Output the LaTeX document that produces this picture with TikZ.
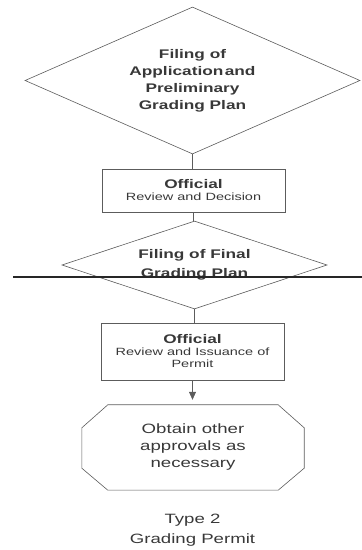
\documentclass[tikz,border=0pt]{standalone}
\usepackage{fontspec}
\setmainfont{Liberation Sans}[FakeStretch=1.38]
\usepackage[HTML]{xcolor}
\usepackage{tikz}
\usetikzlibrary{positioning, arrows.meta, shapes.geometric}
\definecolor{edgegray}{HTML}{5C5C5C}
\definecolor{textgray}{HTML}{383838}

\begin{document}
\begin{tikzpicture}[x=1pt,y=1pt,
  decision/.style={diamond, draw=edgegray, line width=0.6pt, inner sep=0pt, align=center,
    text=textgray, font=\bfseries\fontsize{12.5}{17}\selectfont},
  stagebox/.style={rectangle, draw=edgegray, line width=0.6pt, inner sep=0pt, align=center,
    minimum width=183pt, text=textgray, font=\fontsize{10.5}{12}\selectfont},
  link/.style={draw=edgegray, line width=0.6pt}]
\useasboundingbox (0,0) rectangle (362,550);
% decisions and review boxes
\node[decision, aspect=2.28, minimum width=335pt, minimum height=147pt] (apply) at (192.5,469.5)
  {Filing of\\Application\hspace{1.5pt}and\\Preliminary\\Grading Plan};
\node[stagebox, minimum height=43pt] (review) at (193.5,359.5)
  {{\bfseries\fontsize{12.5}{13}\selectfont Official}\\Review and Decision};
\node[decision, aspect=3.01, minimum width=265pt, minimum height=88pt,
  font=\bfseries\fontsize{12.5}{19}\selectfont] (final) at (194.5,285)
  {Filing of Final\\Grading Plan};
\node[stagebox, minimum height=57pt] (permit) at (192.5,198.5)
  {{\bfseries\fontsize{12.5}{13}\selectfont Official}\\Review and Issuance of\\Permit};
% octagon
\node[minimum width=222pt, minimum height=85pt, align=center, text=textgray,
  font=\fontsize{13.5}{17}\selectfont] (approve) at (193,102.5)
  {Obtain other\\approvals as\\necessary};
\draw[edgegray, line width=0.6pt] ([xshift=26pt]approve.north west) -- ([xshift=-26pt]approve.north east)
  -- ([yshift=-23pt]approve.north east) -- ([yshift=22pt]approve.south east)
  -- ([xshift=-26pt]approve.south east) -- ([xshift=26pt]approve.south west)
  -- ([yshift=22pt]approve.south west) -- ([yshift=-23pt]approve.north west) -- cycle;
\node[align=center, text=textgray, font=\fontsize{13.5}{20}\selectfont] (caption) at (192.5,20)
  {Type 2\\Grading Permit};
% connectors
\draw[link] (apply.south) -- (apply.south |- review.north);
\draw[link] (review.south) -- (review.south |- final.north);
\draw[link] (final.south) -- (final.south |- permit.north);
\draw[link, -{Triangle[width=7pt,length=8pt]}, shorten >=5pt] (permit.south) -- (permit.south |- approve.north);
% stray rule
\draw[black!85, line width=1.2pt] (13,273) -- (362,273);
\end{tikzpicture}
\end{document}
